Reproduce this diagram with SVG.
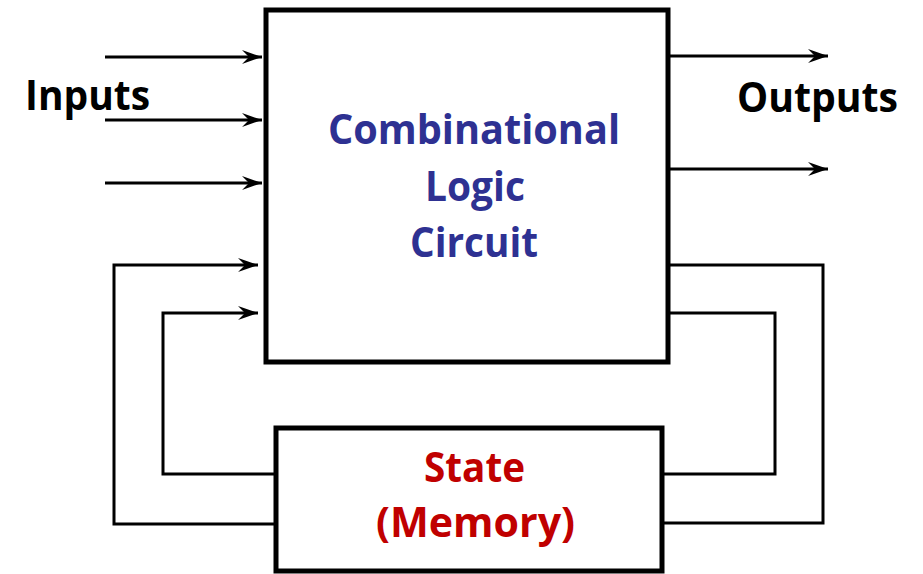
<svg xmlns="http://www.w3.org/2000/svg" width="923" height="574" viewBox="0 0 923 574">
<defs>
<style>
.box{fill:#fff;stroke:#000;stroke-width:5}
.wire{fill:none;stroke:#000;stroke-width:3;stroke-linejoin:miter}
.t{font-family:"Open Sans","Liberation Sans",sans-serif;font-weight:bold;font-size:41px}
.blk{fill:#000}
.blue{fill:#2E3192}
.red{fill:#C00000}
</style>
<marker id="arr" markerWidth="22" markerHeight="16" refX="20" refY="8" orient="auto" markerUnits="userSpaceOnUse">
<path d="M0,1 L20,8 L0,15 L7,8 Z" fill="#000"/>
</marker>
</defs>
<rect width="923" height="574" fill="#fff"/>
<g id="connectors">
<path class="wire" d="M105,57 H262" marker-end="url(#arr)"/>
<path class="wire" d="M105,120 H262" marker-end="url(#arr)"/>
<path class="wire" d="M105,183 H262" marker-end="url(#arr)"/>
<path class="wire" d="M668,56 H828" marker-end="url(#arr)"/>
<path class="wire" d="M668,169 H828" marker-end="url(#arr)"/>
<path class="wire" d="M275,524 H114 V265 H258" marker-end="url(#arr)"/>
<path class="wire" d="M275,474 H163 V313 H258" marker-end="url(#arr)"/>
<path class="wire" d="M668,265 H823 V523 H662"/>
<path class="wire" d="M668,313 H775 V474 H662"/>
</g>
<g id="combinational">
<rect class="box" x="266" y="10" width="402" height="352"/>
<text class="t blue" x="328" y="144" textLength="292" lengthAdjust="spacingAndGlyphs">Combinational</text>
<text class="t blue" x="425" y="201" textLength="100" lengthAdjust="spacingAndGlyphs">Logic</text>
<text class="t blue" x="410" y="257" textLength="128" lengthAdjust="spacingAndGlyphs">Circuit</text>
</g>
<g id="state">
<rect class="box" x="276" y="428" width="386" height="143"/>
<text class="t red" x="424" y="482" textLength="101" lengthAdjust="spacingAndGlyphs">State</text>
<text class="t red" x="376" y="537" textLength="199" lengthAdjust="spacingAndGlyphs">(Memory)</text>
</g>
<g id="labels">
<text class="t blk" x="25" y="110" textLength="125" lengthAdjust="spacingAndGlyphs">Inputs</text>
<text class="t blk" x="737" y="112" textLength="161" lengthAdjust="spacingAndGlyphs">Outputs</text>
</g>
</svg>
